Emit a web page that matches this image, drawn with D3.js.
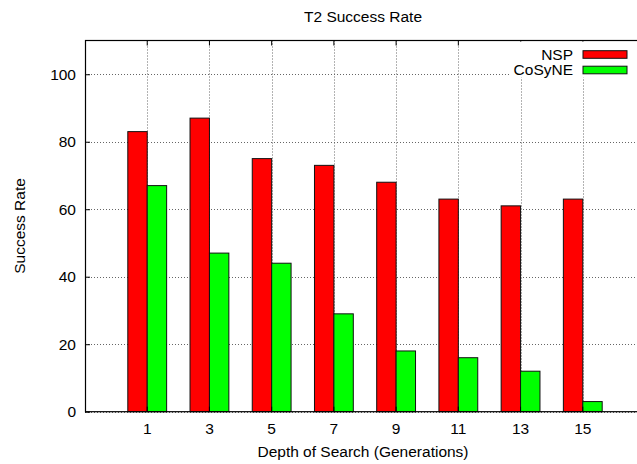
<!DOCTYPE html>
<html>
<head>
<meta charset="utf-8">
<script src="https://cdn.jsdelivr.net/npm/d3@7"></script>
<style>
  body { margin: 0; background: #fff; }
  text { font-family: "Liberation Sans", Arial, sans-serif; fill: #000; }
</style>
</head>
<body>
<svg id="chart" width="637" height="464"></svg>
<script>
// data
var depths = ["1", "3", "5", "7", "9", "11", "13", "15"];
var seriesNames = ["NSP", "CoSyNE"];
var nspRate = [83, 87, 75, 73, 68, 63, 61, 63];
var cosyneRate = [67, 47, 44, 29, 18, 16, 12, 3];
var yTicks = [0, 20, 40, 60, 80, 100];
var seriesColors = ["#ff0000", "#00ff00"];

var svg = d3.select("#chart");
var plotLeft = 85, plotTop = 40.5, plotRight = 645, plotBottom = 411.7;
var fontSize = "15.5px";

// x: one band per depth, half a band of padding at each end
var x = d3.scaleBand().domain(depths).range([plotLeft, plotRight]).paddingInner(0).paddingOuter(0.5);
var barW = x.step() * 0.312;
var xs = d3.scaleBand().domain(seriesNames).range([-barW, barW]);
var y = d3.scaleLinear().domain([0, 110]).range([plotBottom, plotTop]);

var rows = depths.map(function (d, i) {
  return { depth: d, values: [nspRate[i], cosyneRate[i]] };
});

//网格线
var grid = svg.append("g").attr("stroke", "#666").attr("stroke-dasharray", "1,2").attr("stroke-width", 1);
grid.selectAll(".gy").data(yTicks).enter().append("line")
  .attr("x1", plotLeft).attr("x2", plotRight)
  .attr("y1", function (d) { return Math.round(y(d)) + 0.5; })
  .attr("y2", function (d) { return Math.round(y(d)) + 0.5; });
grid.selectAll(".gx").data(depths).enter().append("line")
  .attr("y1", plotTop).attr("y2", plotBottom)
  .attr("x1", function (d) { return Math.round(x(d) + x.bandwidth() / 2) + 0.5; })
  .attr("x2", function (d) { return Math.round(x(d) + x.bandwidth() / 2) + 0.5; });

//柱子
var groups = svg.append("g").selectAll("g").data(rows).enter().append("g")
  .attr("transform", function (d) { return "translate(" + (x(d.depth) + x.bandwidth() / 2) + ",0)"; });
groups.selectAll("rect").data(function (d) { return d.values; }).enter().append("rect")
  .attr("x", function (v, i) { return xs(seriesNames[i]); })
  .attr("width", xs.bandwidth())
  .attr("y", function (v) { return y(v); })
  .attr("height", function (v) { return y(0) - y(v); })
  .attr("fill", function (v, i) { return seriesColors[i]; })
  .attr("stroke", "#111")
  .attr("stroke-width", 1);

//坐标轴
var yAxis = d3.axisLeft(y).tickValues(yTicks).tickSizeInner(-5).tickSizeOuter(0).tickPadding(9);
svg.append("g").attr("transform", "translate(" + plotLeft + ",0)").call(yAxis)
  .call(function (g) { g.select(".domain").remove(); })
  .call(function (g) { g.selectAll("text").style("font-size", fontSize).style("font-family", "Liberation Sans, Arial, sans-serif"); })
  .call(function (g) { g.selectAll("line").attr("stroke", "#000"); });

var xAxis = d3.axisBottom(x).tickSizeInner(-5).tickSizeOuter(0).tickPadding(11);
svg.append("g").attr("transform", "translate(0," + plotBottom + ")").call(xAxis)
  .call(function (g) { g.select(".domain").remove(); })
  .call(function (g) { g.selectAll("text").style("font-size", fontSize).style("font-family", "Liberation Sans, Arial, sans-serif"); })
  .call(function (g) { g.selectAll("line").attr("stroke", "#000"); });

var xTop = d3.axisTop(x).tickSizeInner(-5).tickSizeOuter(0).tickFormat("");
svg.append("g").attr("transform", "translate(0," + plotTop + ")").call(xTop)
  .call(function (g) { g.select(".domain").remove(); })
  .call(function (g) { g.selectAll("line").attr("stroke", "#000"); });

//图例
var legend = svg.append("g");
legend.append("rect").attr("x", 511).attr("y", plotTop + 1).attr("width", plotRight - 511).attr("height", 36).attr("fill", "#fff");
var items = legend.selectAll("g").data(seriesNames).enter().append("g")
  .attr("transform", function (d, i) { return "translate(0," + (54.5 + i * 15.5) + ")"; });
items.append("text").attr("x", 573).attr("dy", "0.35em").attr("text-anchor", "end")
  .style("font-size", fontSize).text(function (d) { return d; });
items.append("rect").attr("x", 583).attr("y", -3.8).attr("width", 44).attr("height", 7.6)
  .attr("fill", function (d, i) { return seriesColors[i]; })
  .attr("stroke", "#111").attr("stroke-width", 1);

//边框
svg.append("rect").attr("x", plotLeft + 0.5).attr("y", plotTop).attr("width", plotRight - plotLeft).attr("height", plotBottom - plotTop)
  .attr("fill", "none").attr("stroke", "#000").attr("stroke-width", 1.2);

//标题
svg.append("text").attr("x", 363).attr("y", 22).attr("text-anchor", "middle")
  .style("font-size", fontSize).text("T2 Success Rate");
svg.append("text").attr("x", 363).attr("y", 457).attr("text-anchor", "middle")
  .style("font-size", fontSize).text("Depth of Search (Generations)");
svg.append("text").attr("transform", "translate(25,226) rotate(-90)").attr("text-anchor", "middle")
  .style("font-size", fontSize).text("Success Rate");
</script>
</body>
</html>
